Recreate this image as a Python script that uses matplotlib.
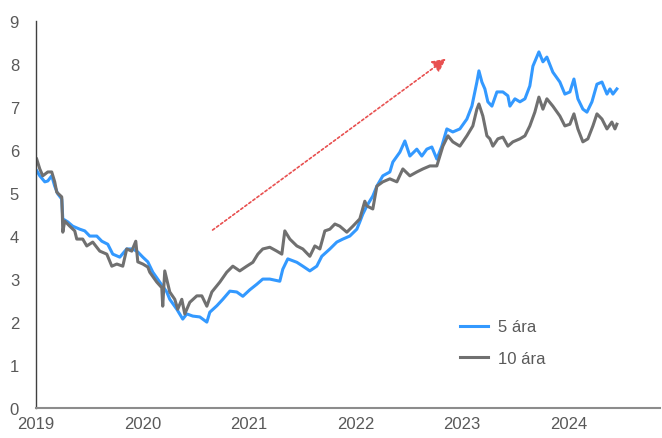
import matplotlib
matplotlib.use("Agg")
import matplotlib.pyplot as plt

# decimal years and yields
t_5y = [2019.009, 2019.038, 2019.085, 2019.113, 2019.150, 2019.178, 2019.207, 2019.244, 2019.254,
        2019.300, 2019.347, 2019.413, 2019.460, 2019.507, 2019.573, 2019.620, 2019.676, 2019.723,
        2019.789, 2019.854, 2019.911, 2019.958, 2020.005, 2020.052, 2020.099, 2020.164, 2020.230,
        2020.258, 2020.324, 2020.380, 2020.418, 2020.474, 2020.540, 2020.606, 2020.634, 2020.700,
        2020.756, 2020.822, 2020.887, 2020.944, 2021.009, 2021.075, 2021.131, 2021.197, 2021.291,
        2021.319, 2021.366, 2021.451, 2021.507, 2021.573, 2021.638, 2021.685, 2021.761, 2021.826,
        2021.883, 2021.948, 2022.014, 2022.042, 2022.070, 2022.108, 2022.164, 2022.202, 2022.258,
        2022.324, 2022.352, 2022.418, 2022.465, 2022.512, 2022.577, 2022.624, 2022.671, 2022.718,
        2022.765, 2022.812, 2022.859, 2022.915, 2022.981, 2023.047, 2023.094, 2023.141, 2023.160,
        2023.188, 2023.216, 2023.244, 2023.282, 2023.329, 2023.385, 2023.432, 2023.451, 2023.498,
        2023.545, 2023.592, 2023.638, 2023.667, 2023.723, 2023.761, 2023.798, 2023.854, 2023.920,
        2023.967, 2024.014, 2024.052, 2024.089, 2024.136, 2024.174, 2024.221, 2024.268, 2024.315,
        2024.362, 2024.390, 2024.418, 2024.455]
y_5y = [5.52, 5.40, 5.26, 5.28, 5.40, 5.16, 4.98, 4.86, 4.40,
        4.33, 4.23, 4.16, 4.12, 4.00, 4.00, 3.88, 3.81, 3.58,
        3.51, 3.70, 3.70, 3.63, 3.51, 3.40, 3.16, 2.93, 2.70,
        2.53, 2.30, 2.07, 2.19, 2.14, 2.12, 2.00, 2.23, 2.38,
        2.53, 2.72, 2.70, 2.60, 2.75, 2.88, 3.00, 3.00, 2.95,
        3.23, 3.47, 3.39, 3.30, 3.19, 3.30, 3.53, 3.70, 3.86,
        3.93, 4.00, 4.16, 4.33, 4.51, 4.70, 4.93, 5.16, 5.40,
        5.49, 5.72, 5.95, 6.21, 5.86, 6.02, 5.86, 6.02, 6.07,
        5.79, 6.09, 6.49, 6.42, 6.49, 6.72, 7.02, 7.58, 7.84,
        7.58, 7.42, 7.12, 7.02, 7.35, 7.35, 7.26, 7.02, 7.19,
        7.12, 7.19, 7.49, 7.95, 8.28, 8.05, 8.16, 7.81, 7.58,
        7.30, 7.35, 7.65, 7.19, 6.95, 6.88, 7.12, 7.53, 7.58,
        7.30, 7.42, 7.30, 7.42]

t_10y = [2019.009, 2019.038, 2019.066, 2019.113, 2019.150, 2019.178, 2019.197, 2019.244, 2019.250,
         2019.254, 2019.272, 2019.319, 2019.366, 2019.385, 2019.441, 2019.479, 2019.535, 2019.601,
         2019.667, 2019.714, 2019.761, 2019.817, 2019.854, 2019.901, 2019.939, 2019.958, 2020.005,
         2020.052, 2020.070, 2020.136, 2020.183, 2020.192, 2020.211, 2020.258, 2020.305, 2020.333,
         2020.371, 2020.399, 2020.446, 2020.512, 2020.559, 2020.606, 2020.653, 2020.728, 2020.793,
         2020.850, 2020.915, 2020.981, 2021.038, 2021.085, 2021.131, 2021.197, 2021.263, 2021.310,
         2021.338, 2021.385, 2021.451, 2021.507, 2021.573, 2021.620, 2021.667, 2021.714, 2021.761,
         2021.808, 2021.854, 2021.920, 2021.977, 2022.042, 2022.089, 2022.108, 2022.164, 2022.202,
         2022.258, 2022.324, 2022.390, 2022.446, 2022.512, 2022.577, 2022.634, 2022.700, 2022.765,
         2022.822, 2022.869, 2022.915, 2022.981, 2023.047, 2023.103, 2023.141, 2023.160, 2023.197,
         2023.235, 2023.263, 2023.291, 2023.338, 2023.385, 2023.432, 2023.479, 2023.545, 2023.592,
         2023.638, 2023.685, 2023.723, 2023.761, 2023.798, 2023.854, 2023.920, 2023.967, 2024.014,
         2024.052, 2024.089, 2024.136, 2024.183, 2024.230, 2024.268, 2024.315, 2024.362, 2024.408,
         2024.437, 2024.455]
y_10y = [5.79, 5.56, 5.40, 5.49, 5.49, 5.26, 5.02, 4.91, 4.47,
         4.09, 4.35, 4.23, 4.12, 3.93, 3.93, 3.77, 3.86, 3.65,
         3.58, 3.30, 3.35, 3.30, 3.70, 3.65, 3.88, 3.40, 3.35,
         3.28, 3.16, 2.93, 2.80, 2.37, 3.19, 2.70, 2.53, 2.30,
         2.53, 2.19, 2.46, 2.61, 2.61, 2.37, 2.70, 2.93, 3.16,
         3.30, 3.19, 3.30, 3.39, 3.58, 3.70, 3.74, 3.65, 3.58,
         4.12, 3.93, 3.77, 3.70, 3.53, 3.77, 3.70, 4.12, 4.16,
         4.28, 4.23, 4.09, 4.23, 4.40, 4.81, 4.70, 4.63, 5.16,
         5.26, 5.33, 5.26, 5.56, 5.40, 5.49, 5.56, 5.63, 5.63,
         6.09, 6.33, 6.19, 6.09, 6.33, 6.56, 6.95, 7.07, 6.79,
         6.33, 6.26, 6.09, 6.26, 6.30, 6.09, 6.19, 6.26, 6.33,
         6.56, 6.88, 7.23, 6.95, 7.19, 7.02, 6.79, 6.56, 6.60,
         6.84, 6.49, 6.19, 6.26, 6.56, 6.84, 6.72, 6.49, 6.65,
         6.49, 6.60]

years = [2019, 2020, 2021, 2022, 2023, 2024]
arrow_start = (2020.66, 4.14)
arrow_end = (2022.85, 8.12)

plt.rcParams['font.family'] = ['Liberation Sans', 'DejaVu Sans']

fig = plt.figure(figsize=(6.62, 4.39), dpi=100)
ax = fig.add_axes([0.054, 0.068, 0.943, 0.882])

ax.plot(t_5y, y_5y, color='#3399ff', lw=2.2, label='5 ára')
ax.plot(t_10y, y_10y, color='#707070', lw=2.2, label='10 ára')

ax.annotate('', xy=arrow_end, xytext=arrow_start,
            arrowprops=dict(arrowstyle='-|>,head_length=0.8,head_width=0.4',
                            color='#e85050', lw=1.2, linestyle=(0, (1.5, 1.5)),
                            shrinkA=0, shrinkB=0))

ax.set_xlim(2019, 2024.86)
ax.set_ylim(0, 9)
ax.set_xticks(years)
ax.set_xticklabels([str(y) for y in years])
ax.set_yticks(range(10))
ax.tick_params(axis='x', length=0, pad=6, labelsize=12, colors='#595959')
ax.tick_params(axis='y', length=0, pad=12, labelsize=12, colors='#595959')

for s in ['top', 'right']:
    ax.spines[s].set_visible(False)
ax.spines['left'].set_color('#404040')
ax.spines['left'].set_linewidth(1)
ax.spines['bottom'].set_color('#8c8c8c')
ax.spines['bottom'].set_linewidth(1.5)

leg = ax.legend(loc='lower left', bbox_to_anchor=(0.655, 0.07), frameon=False,
                fontsize=12, handlelength=1.7, labelspacing=1.0, handletextpad=0.6)
for txt in leg.get_texts():
    txt.set_color('#595959')

fig.savefig('out.png', dpi=100)
